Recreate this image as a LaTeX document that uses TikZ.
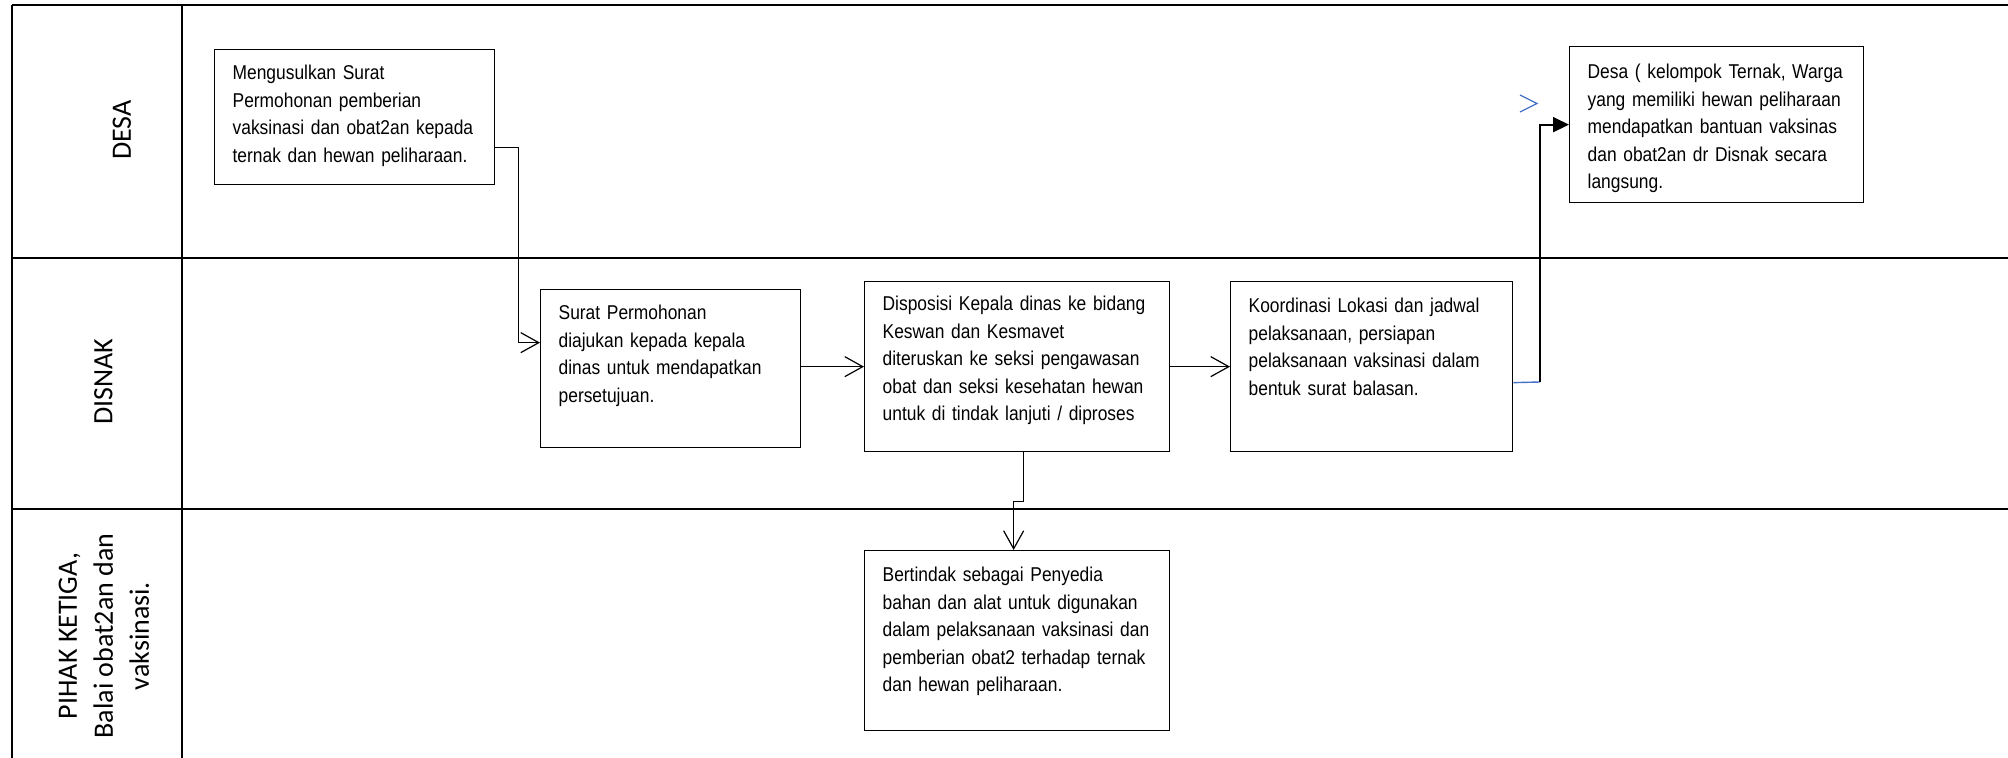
\documentclass[tikz,border=0pt]{standalone}
\usepackage{fontspec}
\usepackage{tikz}
\usetikzlibrary{arrows.meta}
\newfontfamily\boxfont[FakeStretch=0.87]{Liberation Sans}
\newfontfamily\lanefont{Carlito}
\definecolor{lineblue}{RGB}{68,114,196}

\begin{document}
\begin{tikzpicture}[
  x=0.5pt, y=-0.5pt,
  lane/.style={line width=1pt},
  tnode/.style={rotate=90,align=center,inner sep=0pt,font=\lanefont\fontsize{14pt}{18pt}\selectfont},
  pnode/.style={draw,rectangle,line width=0.65pt,anchor=north west,align=left,inner xsep=9pt,inner ysep=0pt,font=\boxfont\fontsize{10pt}{13.75pt}\selectfont},
  arr/.style={line width=0.6pt,-{Straight Barb[length=9pt,width=10pt]}}
]
  \useasboundingbox (0,0) rectangle (2008,758);

  % lanes
  \draw[lane] (12,5) -- (2008,5);
  \draw[lane] (12,258) -- (2008,258);
  \draw[lane] (12,509) -- (2008,509);
  \draw[lane] (12,5) -- (12,758);
  \draw[lane] (182,5) -- (182,758);

  % lane titles
  \node[tnode] (t1) at (122,130) {DESA};
  \node[tnode] (t2) at (103.5,382) {DISNAK};
  \node[tnode] (t3) at (104,636) {PIHAK KETIGA,\\Balai obat2an dan\\vaksinasi.};

  % steps
  \node[pnode,text width=122pt,text height=15pt,text depth=52.5pt] (a) at (214,49)
    {Mengusulkan Surat\\Permohonan pemberian\\vaksinasi dan obat2an kepada\\ternak dan hewan peliharaan.};
  \node[pnode,text width=112pt,text height=15pt,text depth=64pt] (b) at (540,289)
    {Surat Permohonan\\diajukan kepada kepala\\dinas untuk mendapatkan\\persetujuan.};
  \node[pnode,text width=134.5pt,text height=14.5pt,text depth=70.5pt] (c) at (864,281)
    {Disposisi Kepala dinas ke bidang\\Keswan dan Kesmavet\\diteruskan ke seksi pengawasan\\obat dan seksi kesehatan hewan\\untuk di tindak lanjuti / diproses};
  \node[pnode,text width=123pt,text height=15.5pt,text depth=69.5pt] (d) at (1230,281)
    {Koordinasi Lokasi dan jadwal\\pelaksanaan, persiapan\\pelaksanaan vaksinasi dalam\\bentuk surat balasan.};
  \node[pnode,text width=129pt,text height=16pt,text depth=62pt] (e) at (1569,46)
    {Desa ( kelompok Ternak, Warga\\yang memiliki hewan peliharaan\\mendapatkan bantuan vaksinas\\dan obat2an dr Disnak secara\\langsung.};
  \node[pnode,text width=134.5pt,text height=15.5pt,text depth=74.5pt] (f) at (864,550)
    {Bertindak sebagai Penyedia\\bahan dan alat untuk digunakan\\dalam pelaksanaan vaksinasi dan\\pemberian obat2 terhadap ternak\\dan hewan peliharaan.};

  % edges
  \draw[arr] ([yshift=-15.25pt]a.east) -- ++(23,0) |- ([yshift=13pt]b.west);
  \draw[arr] (c -| b.east) -- (c);
  \draw[arr] (d -| c.east) -- (d);
  \draw[arr] ([xshift=3.25pt]c.south) -- ++(0,49) -| ([xshift=-1.75pt]f.north);
  \coordinate (dout) at ([yshift=-8pt]d.east);
  \coordinate (elbow) at (1540,382);
  \draw[line width=0.7pt,lineblue] (dout) -- (elbow);
  \draw[line width=1pt,-{Triangle[length=8pt,width=7.5pt]}] (elbow) |- (e);
  \draw[line width=0.6pt,lineblue] (1520,95) -- (1537,103.5) -- (1520,112);
\end{tikzpicture}
\end{document}
